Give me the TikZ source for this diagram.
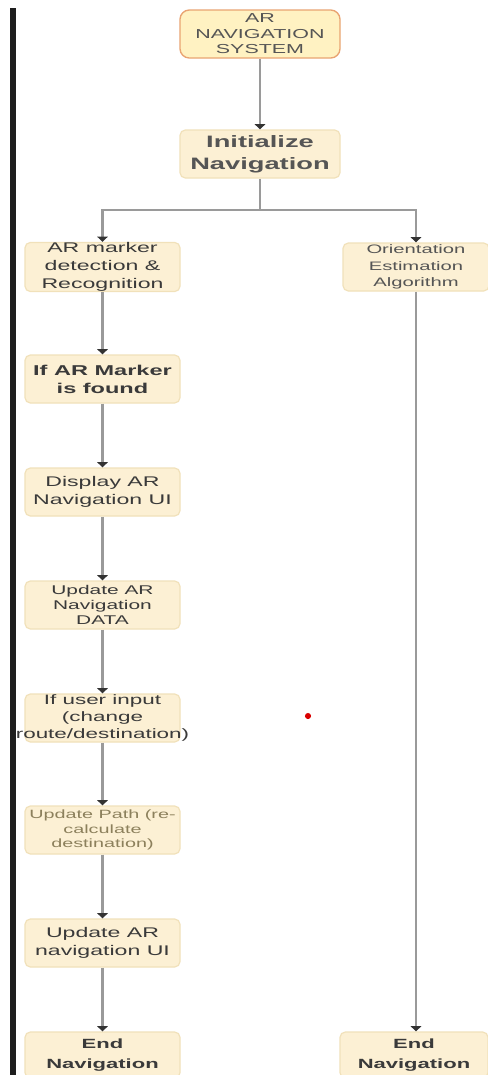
\documentclass[tikz,border=0pt]{standalone}
\usepackage{fontspec}
\setmainfont[FakeStretch=1.65]{Liberation Sans}
\usetikzlibrary{arrows.meta}
\definecolor{boxfill}{HTML}{FCF0D4}
\definecolor{boxline}{HTML}{F1E1BA}
\definecolor{topfill}{HTML}{FFF2C2}
\definecolor{topline}{HTML}{E9A472}
\definecolor{connc}{HTML}{9A9A9A}
\definecolor{tipc}{HTML}{333333}
\definecolor{txt}{HTML}{3A3A3A}
\definecolor{txtl}{HTML}{555555}
\definecolor{txtp}{HTML}{8C805C}
\definecolor{barc}{HTML}{1E1E1E}
\begin{document}
\begin{tikzpicture}[x=0.75pt,y=-0.75pt,
  flow/.style={draw=boxline, fill=boxfill, line width=0.9pt, rounded corners=4pt,
    minimum width=116.25pt, minimum height=36pt, align=center, inner sep=0pt, text=txt},
  topbox/.style={flow, draw=topline, fill=topfill, line width=1pt, rounded corners=7pt,
    minimum width=120pt, text=txtl},
  lbl/.style={align=center, inner sep=0pt, text=txt},
  conn/.style={draw=connc, line width=1.9pt},
  arr/.style={conn, -{Triangle[length=4pt,width=8pt,color=tipc]}},
  fA/.style={font=\fontsize{9.75pt}{11.6pt}\selectfont},
  fB/.style={font=\fontsize{12.4pt}{16.5pt}\selectfont\bfseries},
  fC/.style={font=\fontsize{10.5pt}{13.5pt}\selectfont},
  fD/.style={font=\fontsize{10.7pt}{13.5pt}\selectfont\bfseries},
  fE/.style={font=\fontsize{9.5pt}{11.25pt}\selectfont},
  fF/.style={font=\fontsize{10.2pt}{13.1pt}\selectfont},
  fG/.style={font=\fontsize{9pt}{10.9pt}\selectfont},
  fH/.style={font=\fontsize{10pt}{15pt}\selectfont\bfseries},
  fI/.style={font=\fontsize{9.2pt}{12.5pt}\selectfont}
]
\useasboundingbox (0,0) rectangle (488,1075);
\clip (0,0) rectangle (488,1075);
\fill[white] (0,0) rectangle (488,1075);
\fill[barc] (10,8) rectangle (16,1075);

\node[topbox, fA] (sys) at (260,34) {AR\\NAVIGATION\\SYSTEM};
\node[flow, fB, minimum width=120pt, text=txtl] (init) at (260,154) {Initialize\\Navigation};
\node[flow, fC] (armk) at (102.5,267) {AR marker\\detection \&\\Recognition};
\node[flow, fI, minimum width=109.5pt, text=txtl] (orient) at (416,267) {Orientation\\Estimation\\Algorithm};
\node[flow, fD] (found) at (102.5,379) {If AR Marker\\is found};
\node[flow, fC] (disp) at (102.5,492) {Display AR\\Navigation UI};
\node[flow, fE] (updata) at (102.5,605) {Update AR\\Navigation\\DATA};
\node[flow] (user) at (102.5,718) {};
\node[lbl, fF] (usertext) at (user.center) {If user input\\(change\\route/destination)};
\node[flow, fG, text=txtp] (path) at (102.5,830) {Update Path (re-\\calculate\\destination)};
\node[flow, fC] (upui) at (102.5,943) {Update AR\\navigation UI};
\node[flow, fH, minimum height=34.5pt] (end1) at (102.5,1055) {End\\Navigation};
\node[flow, fH, minimum height=34.5pt, minimum width=111pt] (end2) at (414,1055) {End\\Navigation};

\coordinate (split) at (260,210);
\draw[arr] (sys) -- (init);
\draw[conn] (init.south) -- (split);
\draw[arr] (split) -| (armk.north);
\draw[arr] (split) -| (orient.north);
\draw[arr] (armk) -- (found);
\draw[arr] (found) -- (disp);
\draw[arr] (disp) -- (updata);
\draw[arr] (updata) -- (user);
\draw[arr] (user) -- (path);
\draw[arr] (path) -- (upui);
\draw[arr] (upui) -- (end1);
\draw[arr] (orient.south) -- (orient.south |- end2.north);

\fill[red!85!black] (308,716) circle (2.3pt);
\end{tikzpicture}
\end{document}
